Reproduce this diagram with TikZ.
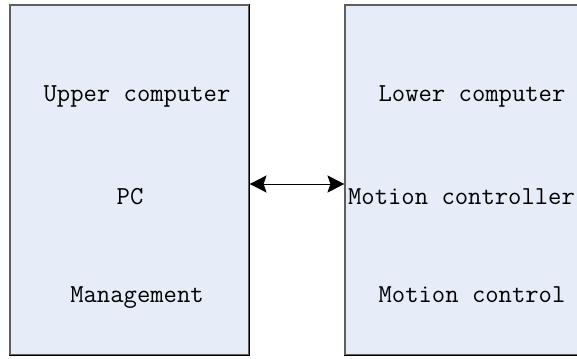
\documentclass[tikz,border=0pt]{standalone}
\usepackage{fontspec}
\usepackage{tikz}
\usetikzlibrary{arrows.meta,positioning}
\definecolor{boxblue}{RGB}{230, 237, 248}
\definecolor{boxline}{RGB}{95, 95, 95}

\begin{document}
\begin{tikzpicture}[x=1pt,y=-1pt,
    block/.style={draw=boxline, fill=boxblue, line width=1.1pt, minimum width=239pt, minimum height=350pt, inner sep=0pt},
    label/.style={font=\ttfamily\fontsize{25.9}{30}\selectfont, inner sep=0pt, anchor=base},
    link/.style={line width=0.9pt, {Stealth[length=17pt,width=17pt,inset=3pt]}-{Stealth[length=17pt,width=17pt,inset=3pt]}}]
\clip (0,0) rectangle (577,358);

% Two blocks
\node[block] (upper) at (129.5,180) {};
\node[block] (lower) at (464.5,180) {};
% dark lower and right edges
\draw[black, line width=1.1pt] (upper.south west) -- (upper.south east) -- (upper.north east);
\draw[black, line width=1.1pt] (lower.south west) -- (lower.south east);

% Texts of the upper computer
\node[label] (uc) at (137,101.5) {Upper computer};
\node[label] (pc) at (130,204.5) {PC};
\node[label] (mg) at (137,302) {Management};

% Texts of the lower computer
\node[label] (lc) at (472,101.5) {Lower computer};
\node[label] (mc) at (461.5,204.5) {Motion controller};
\node[label] (mt) at (472,302) {Motion control};

% Link between the two
\draw[link] ([yshift=-4pt]upper.east) -- ([yshift=-4pt]lower.west);
\end{tikzpicture}
\end{document}
